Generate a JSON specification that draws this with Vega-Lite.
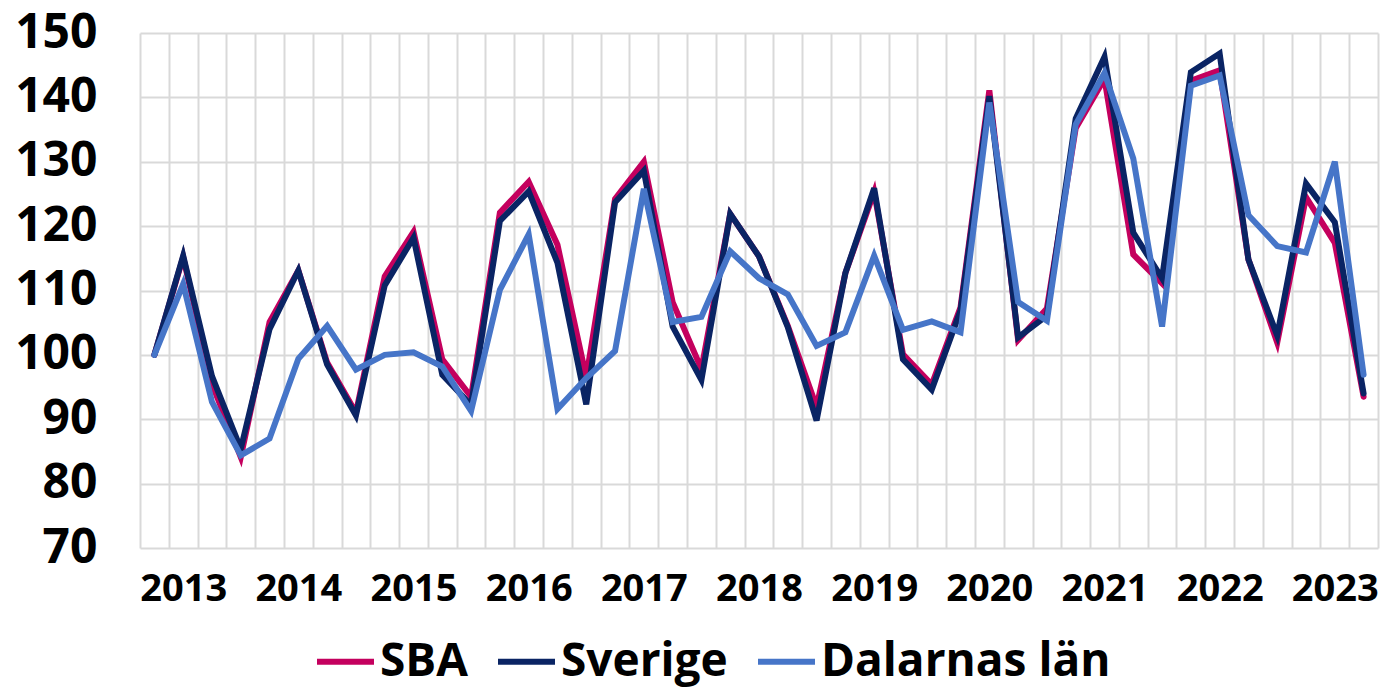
{
  "$schema": "https://vega.github.io/schema/vega-lite/v6.json",
  "autosize": {"type": "none"},
  "width": 1238,
  "height": 515,
  "padding": {"left": 140, "top": 33, "right": 4, "bottom": 139},
  "background": "white",
  "config": {
    "view": {"stroke": null},
    "font": "Open Sans",
    "axis": {"labelFont": "Open Sans", "labelFontWeight": "bold", "labelColor": "#000000", "gridColor": "#d9d9d9", "gridWidth": 2, "ticks": false, "domain": false}
  },
  "data": {"values": [
    {"q":"2013Q1","s":"SBA","v":100.0},{"q":"2013Q2","s":"SBA","v":115.2},{"q":"2013Q3","s":"SBA","v":95.5},{"q":"2013Q4","s":"SBA","v":84.1},
    {"q":"2014Q1","s":"SBA","v":105.1},{"q":"2014Q2","s":"SBA","v":113.1},{"q":"2014Q3","s":"SBA","v":98.8},{"q":"2014Q4","s":"SBA","v":91.0},
    {"q":"2015Q1","s":"SBA","v":112.2},{"q":"2015Q2","s":"SBA","v":119.1},{"q":"2015Q3","s":"SBA","v":99.3},{"q":"2015Q4","s":"SBA","v":93.5},
    {"q":"2016Q1","s":"SBA","v":122.1},{"q":"2016Q2","s":"SBA","v":126.9},{"q":"2016Q3","s":"SBA","v":117.1},{"q":"2016Q4","s":"SBA","v":96.5},
    {"q":"2017Q1","s":"SBA","v":124.2},{"q":"2017Q2","s":"SBA","v":130.0},{"q":"2017Q3","s":"SBA","v":108.2},{"q":"2017Q4","s":"SBA","v":97.8},
    {"q":"2018Q1","s":"SBA","v":121.9},{"q":"2018Q2","s":"SBA","v":115.3},{"q":"2018Q3","s":"SBA","v":104.5},{"q":"2018Q4","s":"SBA","v":91.9},
    {"q":"2019Q1","s":"SBA","v":112.7},{"q":"2019Q2","s":"SBA","v":125.3},{"q":"2019Q3","s":"SBA","v":100.1},{"q":"2019Q4","s":"SBA","v":95.4},
    {"q":"2020Q1","s":"SBA","v":107.4},{"q":"2020Q2","s":"SBA","v":141.1},{"q":"2020Q3","s":"SBA","v":102.3},{"q":"2020Q4","s":"SBA","v":107.2},
    {"q":"2021Q1","s":"SBA","v":135.2},{"q":"2021Q2","s":"SBA","v":142.9},{"q":"2021Q3","s":"SBA","v":115.6},{"q":"2021Q4","s":"SBA","v":111.1},
    {"q":"2022Q1","s":"SBA","v":142.6},{"q":"2022Q2","s":"SBA","v":144.2},{"q":"2022Q3","s":"SBA","v":114.8},{"q":"2022Q4","s":"SBA","v":101.9},
    {"q":"2023Q1","s":"SBA","v":124.5},{"q":"2023Q2","s":"SBA","v":117.4},{"q":"2023Q3","s":"SBA","v":93.5},

    {"q":"2013Q1","s":"Sverige","v":100.0},{"q":"2013Q2","s":"Sverige","v":115.4},{"q":"2013Q3","s":"Sverige","v":96.7},{"q":"2013Q4","s":"Sverige","v":85.4},
    {"q":"2014Q1","s":"Sverige","v":104.0},{"q":"2014Q2","s":"Sverige","v":113.1},{"q":"2014Q3","s":"Sverige","v":98.5},{"q":"2014Q4","s":"Sverige","v":90.6},
    {"q":"2015Q1","s":"Sverige","v":110.8},{"q":"2015Q2","s":"Sverige","v":118.2},{"q":"2015Q3","s":"Sverige","v":96.9},{"q":"2015Q4","s":"Sverige","v":92.2},
    {"q":"2016Q1","s":"Sverige","v":120.8},{"q":"2016Q2","s":"Sverige","v":125.4},{"q":"2016Q3","s":"Sverige","v":114.3},{"q":"2016Q4","s":"Sverige","v":92.3},
    {"q":"2017Q1","s":"Sverige","v":123.7},{"q":"2017Q2","s":"Sverige","v":128.6},{"q":"2017Q3","s":"Sverige","v":104.4},{"q":"2017Q4","s":"Sverige","v":96.1},
    {"q":"2018Q1","s":"Sverige","v":121.9},{"q":"2018Q2","s":"Sverige","v":115.3},{"q":"2018Q3","s":"Sverige","v":104.3},{"q":"2018Q4","s":"Sverige","v":89.8},
    {"q":"2019Q1","s":"Sverige","v":112.7},{"q":"2019Q2","s":"Sverige","v":125.9},{"q":"2019Q3","s":"Sverige","v":99.3},{"q":"2019Q4","s":"Sverige","v":94.6},
    {"q":"2020Q1","s":"Sverige","v":106.9},{"q":"2020Q2","s":"Sverige","v":140.2},{"q":"2020Q3","s":"Sverige","v":102.7},{"q":"2020Q4","s":"Sverige","v":106.1},
    {"q":"2021Q1","s":"Sverige","v":136.7},{"q":"2021Q2","s":"Sverige","v":146.3},{"q":"2021Q3","s":"Sverige","v":119.0},{"q":"2021Q4","s":"Sverige","v":111.9},
    {"q":"2022Q1","s":"Sverige","v":143.9},{"q":"2022Q2","s":"Sverige","v":146.8},{"q":"2022Q3","s":"Sverige","v":114.8},{"q":"2022Q4","s":"Sverige","v":103.0},
    {"q":"2023Q1","s":"Sverige","v":126.6},{"q":"2023Q2","s":"Sverige","v":120.6},{"q":"2023Q3","s":"Sverige","v":94.0},

    {"q":"2013Q1","s":"Dalarnas län","v":100.0},{"q":"2013Q2","s":"Dalarnas län","v":111.0},{"q":"2013Q3","s":"Dalarnas län","v":92.7},{"q":"2013Q4","s":"Dalarnas län","v":84.4},
    {"q":"2014Q1","s":"Dalarnas län","v":87.0},{"q":"2014Q2","s":"Dalarnas län","v":99.4},{"q":"2014Q3","s":"Dalarnas län","v":104.5},{"q":"2014Q4","s":"Dalarnas län","v":97.7},
    {"q":"2015Q1","s":"Dalarnas län","v":100.0},{"q":"2015Q2","s":"Dalarnas län","v":100.4},{"q":"2015Q3","s":"Dalarnas län","v":98.2},{"q":"2015Q4","s":"Dalarnas län","v":91.3},
    {"q":"2016Q1","s":"Dalarnas län","v":110.1},{"q":"2016Q2","s":"Dalarnas län","v":118.7},{"q":"2016Q3","s":"Dalarnas län","v":91.6},{"q":"2016Q4","s":"Dalarnas län","v":96.4},
    {"q":"2017Q1","s":"Dalarnas län","v":100.6},{"q":"2017Q2","s":"Dalarnas län","v":125.8},{"q":"2017Q3","s":"Dalarnas län","v":105.1},{"q":"2017Q4","s":"Dalarnas län","v":105.9},
    {"q":"2018Q1","s":"Dalarnas län","v":116.1},{"q":"2018Q2","s":"Dalarnas län","v":111.9},{"q":"2018Q3","s":"Dalarnas län","v":109.4},{"q":"2018Q4","s":"Dalarnas län","v":101.4},
    {"q":"2019Q1","s":"Dalarnas län","v":103.5},{"q":"2019Q2","s":"Dalarnas län","v":115.4},{"q":"2019Q3","s":"Dalarnas län","v":103.9},{"q":"2019Q4","s":"Dalarnas län","v":105.2},
    {"q":"2020Q1","s":"Dalarnas län","v":103.5},{"q":"2020Q2","s":"Dalarnas län","v":139.2},{"q":"2020Q3","s":"Dalarnas län","v":108.2},{"q":"2020Q4","s":"Dalarnas län","v":105.3},
    {"q":"2021Q1","s":"Dalarnas län","v":135.8},{"q":"2021Q2","s":"Dalarnas län","v":143.8},{"q":"2021Q3","s":"Dalarnas län","v":130.5},{"q":"2021Q4","s":"Dalarnas län","v":104.4},
    {"q":"2022Q1","s":"Dalarnas län","v":141.8},{"q":"2022Q2","s":"Dalarnas län","v":143.4},{"q":"2022Q3","s":"Dalarnas län","v":121.7},{"q":"2022Q4","s":"Dalarnas län","v":116.9},
    {"q":"2023Q1","s":"Dalarnas län","v":115.9},{"q":"2023Q2","s":"Dalarnas län","v":130.0},{"q":"2023Q3","s":"Dalarnas län","v":96.9}
  ]},
  "mark": {"type": "line", "strokeWidth": 6, "strokeCap": "round", "strokeJoin": "miter"},
  "encoding": {
    "x": {
      "field": "q", "type": "ordinal", "sort": null,
      "scale": {"type": "band", "paddingInner": 0, "paddingOuter": 0},
      "axis": {
        "title": null, "labelAngle": 0, "labelFontSize": 38, "labelPadding": 22,
        "labelOverlap": false, "tickBand": "extent", "grid": true,
        "labelExpr": "test(/Q2$/, '' + datum.label) ? substring('' + datum.label, 0, 4) : ''"
      }
    },
    "y": {
      "field": "v", "type": "quantitative",
      "scale": {"domain": [70, 150], "nice": false, "zero": false},
      "axis": {"title": null, "values": [70, 80, 90, 100, 110, 120, 130, 140, 150], "labelFontSize": 48, "labelPadding": 43, "grid": true}
    },
    "color": {
      "field": "s", "type": "nominal", "sort": null,
      "scale": {"domain": ["SBA", "Sverige", "Dalarnas län"], "range": ["#C4005E", "#0A2464", "#4675C8"]},
      "legend": {
        "title": null, "orient": "none", "direction": "horizontal", "legendX": 174, "legendY": 597,
        "symbolType": "stroke", "symbolSize": 3249, "symbolStrokeWidth": 6,
        "labelFont": "Open Sans", "labelFontSize": 46, "labelFontWeight": "bold", "labelColor": "#000000",
        "labelLimit": 600, "labelOffset": 3, "columnPadding": 18
      }
    }
  }
}
